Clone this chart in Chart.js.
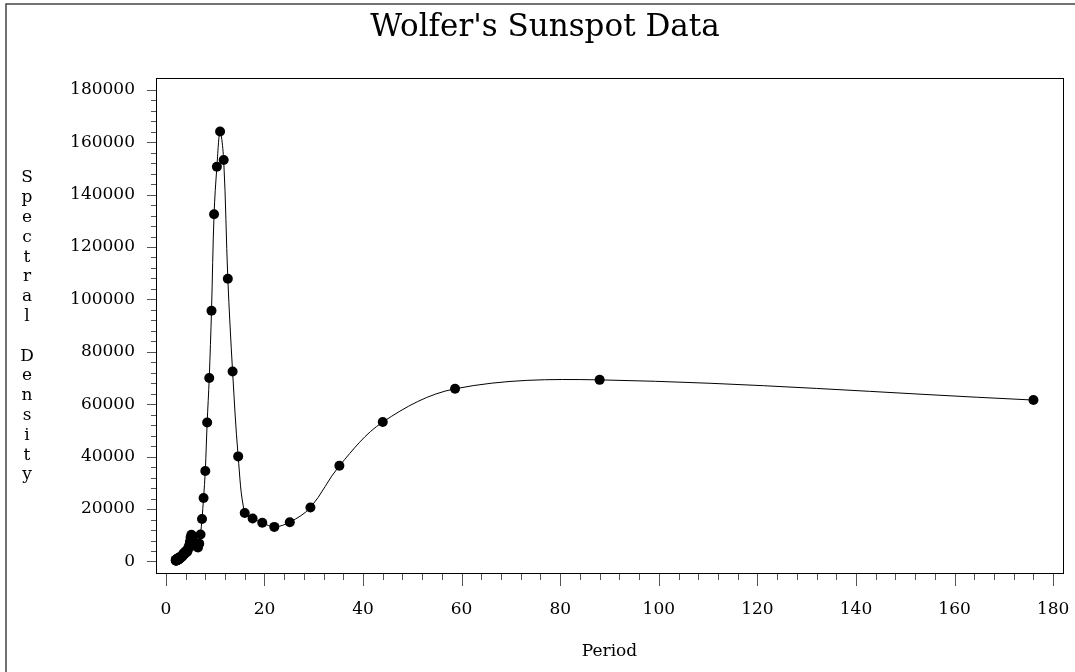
<!DOCTYPE html>
<html>
<head>
<meta charset="utf-8">
<script src="https://cdn.jsdelivr.net/npm/chart.js@4"></script>
<style>
  html, body { margin: 0; padding: 0; background: #fff; }
  #wrap { width: 1075px; height: 672px; }
</style>
</head>
<body>
<div id="wrap"><canvas id="sunspot" width="1075" height="672"></canvas></div>
<script>
// periods (x) and spectral density (y)
const periods = [
  2.00, 2.02, 2.05, 2.07, 2.10, 2.12, 2.15, 2.17, 2.20, 2.23, 2.26, 2.29, 2.32, 2.35, 2.38, 2.41,
  2.44, 2.48, 2.51, 2.55, 2.59, 2.63, 2.67, 2.71, 2.75, 2.79, 2.84, 2.89, 2.93, 2.98, 3.03, 3.09,
  3.14, 3.20, 3.26, 3.32, 3.38, 3.45, 3.52, 3.59, 3.67, 3.74, 3.83, 3.91, 4.00, 4.09, 4.19, 4.29,
  4.40, 4.51, 4.63, 4.76, 4.89, 5.03, 5.18, 5.33, 5.50, 5.68, 5.87, 6.07, 6.29, 6.52, 6.77, 7.04,
  7.33, 7.65, 8.00, 8.38, 8.80, 9.26, 9.78, 10.35, 11.00, 11.73, 12.57, 13.54, 14.67, 16.00,
  17.60, 19.56, 22.00, 25.14, 29.33, 35.20, 44.00, 58.67, 88.00, 176.00
];
const density = [
  600, 400, 300, 500, 700, 600, 400, 500, 800, 900, 700, 500, 600, 900, 1100, 1000,
  800, 700, 900, 1200, 1300, 1100, 900, 1000, 1300, 1500, 1400, 1200, 1300, 1600, 1900, 1800,
  1600, 1700, 2100, 2400, 2300, 2200, 2500, 2900, 3200, 3100, 3000, 3300, 3700, 4000, 3800, 3600,
  4100, 4800, 5500, 6200, 7500, 9200, 10200, 9800, 8200, 7000, 6800, 6200, 5600, 5300, 6800, 10300,
  16200, 24200, 34500, 53000, 70000, 95700, 132500, 150600, 164100, 153200, 107900, 72500, 40100, 18500,
  16400, 14800, 13200, 15000, 20600, 36500, 53200, 65900, 69300, 61600
];
const xTicks = [0, 20, 40, 60, 80, 100, 120, 140, 160, 180];
const yTicks = [0, 20000, 40000, 60000, 80000, 100000, 120000, 140000, 160000, 180000];
const chartTitle = "Wolfer's Sunspot Data";
const yTitle = "Spectral Density";

const serif = "'DejaVu Serif', serif";

const points = periods.map((p, i) => ({ x: p, y: density[i] }));

// frame, title, plot box, major/minor ticks and the stacked y label
const decor = {
  id: 'decor',
  afterDraw(chart) {
    const ctx = chart.ctx;
    const a = chart.chartArea;
    const xs = chart.scales.x, ys = chart.scales.y;
    ctx.save();
    ctx.strokeStyle = '#444';
    ctx.lineWidth = 1.5;
    ctx.beginPath();
    ctx.moveTo(6, 700); ctx.lineTo(6, 4); ctx.lineTo(1075, 4);
    ctx.stroke();

    ctx.strokeStyle = '#000';
    ctx.lineWidth = 1;
    ctx.strokeRect(a.left + 0.5, a.top + 0.5, a.right - a.left, a.bottom - a.top);

    ctx.strokeStyle = '#555';
    ctx.beginPath();
    for (let v = 0; v <= 180; v += 4) {
      const px = Math.round(xs.getPixelForValue(v)) + 0.5;
      const len = v % 20 === 0 ? 12 : 6;
      ctx.moveTo(px, a.bottom + 1); ctx.lineTo(px, a.bottom + 1 + len);
    }
    for (let v = 0; v <= 180000; v += 4000) {
      const py = Math.round(ys.getPixelForValue(v)) + 0.5;
      const len = v % 20000 === 0 ? 9 : 5;
      ctx.moveTo(a.left, py); ctx.lineTo(a.left - len, py);
    }
    ctx.stroke();

    ctx.fillStyle = '#000';
    ctx.textAlign = 'center';
    ctx.textBaseline = 'middle';
    ctx.font = '31px ' + serif;
    ctx.fillText(chartTitle, 545, 28);

    ctx.font = '17px ' + serif;
    yTitle.split('').forEach((c, i) => {
      if (c !== ' ') ctx.fillText(c, 27, 178 + i * 19.8);
    });
    ctx.restore();
  }
};

new Chart(document.getElementById('sunspot'), {
  type: 'scatter',
  data: {
    datasets: [{
      data: points,
      showLine: true,
      borderColor: '#000',
      borderWidth: 1,
      tension: 0.35,
      pointRadius: 5,
      pointBackgroundColor: '#000',
      pointBorderColor: '#000',
      pointBorderWidth: 0
    }]
  },
  options: {
    responsive: false,
    animation: false,
    layout: { padding: { left: 0, right: 12, top: 78, bottom: 0 } },
    plugins: {
      legend: { display: false },
      tooltip: { enabled: false },
      title: { display: false }
    },
    scales: {
      x: {
        type: 'linear',
        min: -2,
        max: 182,
        grid: { display: false, drawTicks: false },
        border: { display: false },
        afterBuildTicks: s => { s.ticks = xTicks.map(v => ({ value: v })); },
        afterFit: s => { s.height = 99; s.paddingLeft = 0; s.paddingRight = 0; },
        ticks: {
          color: '#000', padding: 26, maxRotation: 0,
          font: { family: serif, size: 17 },
          callback: v => String(v)
        },
        title: {
          display: true,
          text: 'Period',
          color: '#000',
          font: { family: serif, size: 17 },
          padding: { top: 0, bottom: 10 }
        }
      },
      y: {
        type: 'linear',
        min: -4400,
        max: 184500,
        grid: { display: false, drawTicks: false },
        border: { display: false },
        afterBuildTicks: s => { s.ticks = yTicks.map(v => ({ value: v })); },
        afterFit: s => { s.width = 156; s.paddingTop = 0; s.paddingBottom = 0; },
        ticks: {
          color: '#000', padding: 21,
          font: { family: serif, size: 17 },
          callback: v => String(v)
        }
      }
    }
  },
  plugins: [decor]
});
</script>
</body>
</html>
